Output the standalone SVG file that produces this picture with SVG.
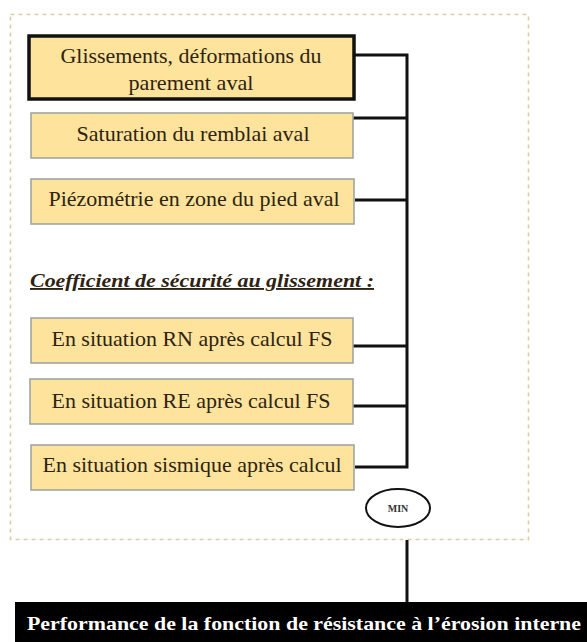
<svg xmlns="http://www.w3.org/2000/svg" width="587" height="642" viewBox="0 0 587 642">
  <style>
    .frame { fill: #ffffff; stroke: #d9cca6; stroke-width: 1.6; stroke-dasharray: 4 4; }
    .box { fill: #fde39b; stroke: #9ea7a2; stroke-width: 1.6; }
    .box-main { fill: #fde39b; stroke: #111111; stroke-width: 3.5; }
    .lbl { font-family: "Liberation Serif", "Times New Roman", serif; font-size: 21px; fill: #2e2312; text-anchor: middle; }
    .head { font-family: "Liberation Serif", "Times New Roman", serif; font-size: 19px; font-weight: bold; font-style: italic; fill: #2e2312; text-decoration: underline; }
    .wire { fill: none; stroke: #111111; stroke-width: 3; }
    .op { fill: #ffffff; stroke: #111111; stroke-width: 2; }
    .op-txt { font-family: "Liberation Serif", "Times New Roman", serif; font-size: 10px; font-weight: bold; fill: #333333; text-anchor: middle; }
    .result { fill: #000000; }
    .result-txt { font-family: "Liberation Serif", "Times New Roman", serif; font-size: 19px; font-weight: bold; fill: #ffffff; }
  </style>

  <!-- dashed grouping frame -->
  <rect class="frame" x="10.5" y="14.5" width="518" height="525"/>

  <!-- connectors -->
  <g id="connectors">
    <path class="wire" d="M355 55 H407 V467 H355"/>
    <path class="wire" d="M353 118 H407"/>
    <path class="wire" d="M355 200 H407"/>
    <path class="wire" d="M353 346 H407"/>
    <path class="wire" d="M353 406 H407"/>
    <path class="wire" d="M407 540 V603"/>
  </g>

  <g id="n-glissements">
    <rect class="box-main" x="29" y="36" width="325" height="63"/>
    <text class="lbl" x="191" y="63" textLength="261" lengthAdjust="spacingAndGlyphs">Glissements, déformations du</text>
    <text class="lbl" x="191" y="90" textLength="125" lengthAdjust="spacingAndGlyphs">parement aval</text>
  </g>

  <g id="n-saturation">
    <rect class="box" x="31" y="113" width="322" height="45"/>
    <text class="lbl" x="193" y="141" textLength="233" lengthAdjust="spacingAndGlyphs">Saturation du remblai aval</text>
  </g>

  <g id="n-piezometrie">
    <rect class="box" x="31" y="179" width="323" height="45"/>
    <text class="lbl" x="194" y="206" textLength="291" lengthAdjust="spacingAndGlyphs">Piézométrie en zone du pied aval</text>
  </g>

  <g id="t-coefficient">
    <text class="head" x="30" y="287" textLength="344" lengthAdjust="spacingAndGlyphs">Coefficient de sécurité au glissement :</text>
  </g>

  <g id="n-rn">
    <rect class="box" x="31" y="318" width="322" height="45"/>
    <text class="lbl" x="192" y="346" textLength="281" lengthAdjust="spacingAndGlyphs">En situation RN après calcul FS</text>
  </g>

  <g id="n-re">
    <rect class="box" x="30" y="379" width="323" height="45"/>
    <text class="lbl" x="191" y="408" textLength="279" lengthAdjust="spacingAndGlyphs">En situation RE après calcul FS</text>
  </g>

  <g id="n-sismique">
    <rect class="box" x="31" y="445" width="323" height="45"/>
    <text class="lbl" x="192" y="472" textLength="299" lengthAdjust="spacingAndGlyphs">En situation sismique après calcul</text>
  </g>

  <g id="n-min">
    <ellipse class="op" cx="398" cy="508" rx="32" ry="19"/>
    <text class="op-txt" x="398" y="512">MIN</text>
  </g>

  <g id="n-performance">
    <rect class="result" x="15" y="602" width="572" height="40"/>
    <text class="result-txt" x="27" y="630" textLength="554" lengthAdjust="spacingAndGlyphs">Performance de la fonction de résistance à l’érosion interne</text>
  </g>
</svg>
